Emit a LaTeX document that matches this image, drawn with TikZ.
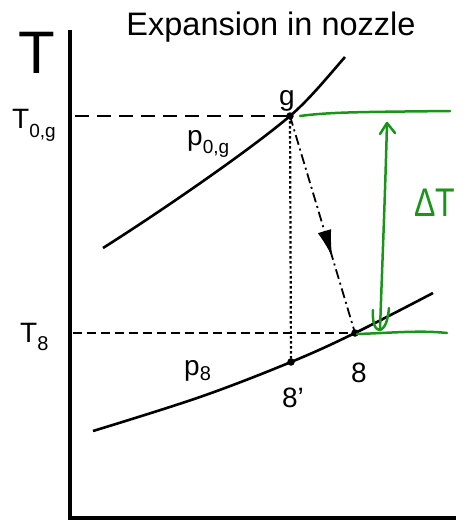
\documentclass[tikz,border=0pt]{standalone}
\usepackage{fontspec}
\setmainfont{Liberation Sans}
\usetikzlibrary{arrows.meta,decorations.markings}
\definecolor{hand}{RGB}{25,150,25}
\tikzset{
  axisline/.style={line width=3.2pt},
  curveline/.style={line width=2.6pt},
  guideA/.style={line width=2.7pt, dash pattern=on 14pt off 8pt},
  guideB/.style={line width=2.2pt, dash pattern=on 9pt off 5pt},
  dotline/.style={line width=2.2pt, dash pattern=on 2.5pt off 2.5pt},
  processline/.style={line width=1.8pt, dash pattern=on 10pt off 4pt on 2pt off 4pt,
    postaction={decorate, decoration={markings, mark=at position 0.65 with {\arrow{Latex[length=27pt,width=14pt]}}}}},
  statept/.style={circle, fill=black, inner sep=0pt, minimum size=7.5pt},
  lbl/.style={font=\fontsize{28}{30}\selectfont, inner sep=0pt, anchor=base},
  greenline/.style={hand, line width=2.5pt, line cap=round},
  chev/.style={hand, line width=2.5pt, line cap=round, line join=round}
}
\begin{document}
\begin{tikzpicture}[x=1pt,y=-1pt]
\useasboundingbox (0,0) rectangle (469,523);
% title and axis letter
\node[lbl, font=\fontsize{32.5}{34}\selectfont] (title) at (271,35) {Expansion in nozzle};
\node[lbl, font=\fontsize{60}{60}\selectfont] (Taxis) at (37,73) {T};
% axes
\coordinate (ytop) at (70,30);
\coordinate (orig) at (70,518);
\coordinate (xend) at (456,518);
\draw[axisline] (ytop) -- (orig) -- (xend);
% states
\coordinate (g) at (290,116);
\coordinate (s8p) at (291,362);
\coordinate (s8) at (355,333);
\coordinate (T0g) at (75,116);
\coordinate (T8) at (73,333);
% isobars
\draw[curveline] (103,248) .. controls (160,212) and (250,150) .. (g)
                 .. controls (310,99) and (330,74) .. (345,57);
\draw[curveline] plot[smooth, tension=0.6] coordinates {(93,431) (200,397) (291,362) (355,333) (433,293)};
% guide lines
\draw[guideA] (T0g) -- (g);
\draw[guideB] (T8) -- (s8);
\draw[dotline] (g) -- (s8p);
\draw[processline] (g) -- (s8);
\node[statept] (ng) at (g) {};
\node[statept] (n8p) at (s8p) {};
\node[statept] (n8) at (s8) {};
% labels
\node[lbl] (lg) at (287,105) {g};
\node[lbl, anchor=base west] (lT0g) at (12,128) {T\raisebox{-9pt}{\fontsize{19}{19}\selectfont 0,g}};
\node[lbl, anchor=base west] (lp0g) at (187,145) {p\raisebox{-8pt}{\fontsize{19}{19}\selectfont 0,g}};
\node[lbl, anchor=base west] (lT8) at (20,342) {T\raisebox{-8pt}{\fontsize{20}{20}\selectfont 8}};
\node[lbl, anchor=base west] (lp8) at (184,375) {p\raisebox{-5pt}{\fontsize{20}{20}\selectfont 8}};
\node[lbl] (l8p) at (293,407) {8'};
\node[lbl] (l8) at (359,382) {8};
% green annotation
\coordinate (gtopA) at (300,116);
\coordinate (gtopB) at (450,111);
\coordinate (gbotA) at (357,334);
\coordinate (gbotB) at (447,333);
\coordinate (atop) at (387,123);
\coordinate (abot) at (380,330);
\draw[greenline] (gtopA) .. controls (330,112) and (360,112) .. (gtopB);
\draw[greenline] (gbotA) .. controls (390,333) and (420,330) .. (gbotB);
\draw[greenline] (atop) .. controls (385,200) and (382,270) .. (abot);
\draw[chev] (380,134) -- (atop) -- (395,133);
\draw[chev] (373,310) .. controls (372,325) and (376,330) .. (abot) .. controls (386,328) and (388,318) .. (389,308);
\node[lbl, anchor=base west, hand, font=\fontsize{40}{40}\selectfont, xscale=0.8] (dT) at (414,216) {ΔT};
\end{tikzpicture}
\end{document}
